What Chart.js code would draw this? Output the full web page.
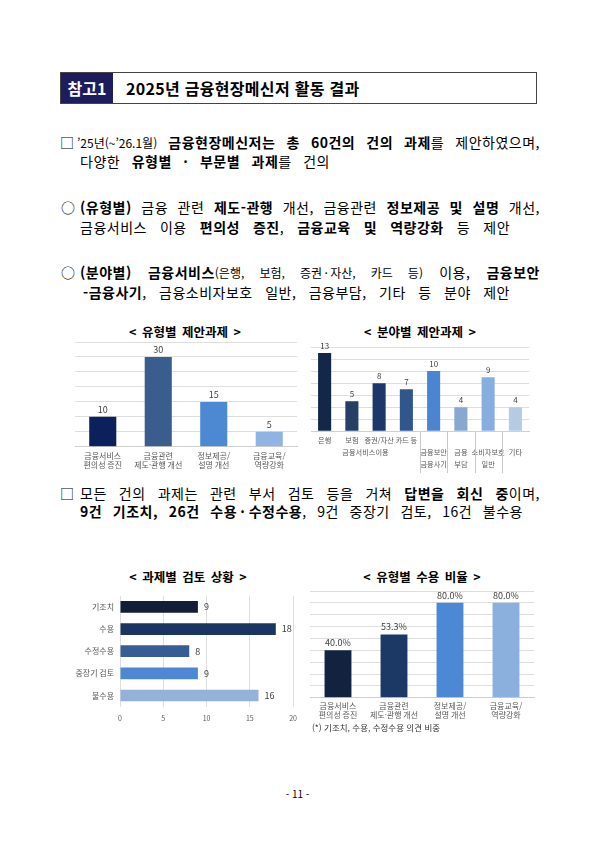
<!DOCTYPE html>
<html lang="ko">
<head>
<meta charset="UTF-8">
<title>2025년 금융현장메신저 활동 결과</title>
<script src="https://cdn.jsdelivr.net/npm/chart.js@4.4.1/dist/chart.umd.min.js"></script>
<style>
    body{
        margin: 0;
        width: 595px;
        height: 841px;
        position: relative;
        background: #fff;
        color: #000;
        font-family: 'Noto Sans CJK KR', sans-serif;
    }
    .line, .mark{
        position: absolute;
        font-size: 14px;
        line-height: 20px;
    }
    .line{
        letter-spacing: 0.5px;
        text-align: justify;
        text-align-last: justify;
    }
    .line b{ font-weight: 700; }
    .sm{ font-size: 12px; letter-spacing: 0; }
    .head{
        position: absolute;
        left: 60px; top: 72px;
        width: 475px; height: 30px;
        border: 1px solid #444;
    }
    .head .tag{
        position: absolute;
        left: 0; top: 0; width: 52px; height: 30px;
        background: #1e1d5c;
        color: #fff;
        font-weight: 700;
        font-size: 16px;
        line-height: 30px;
        text-align: center;
    }
    .head .txt{
        position: absolute;
        left: 65px; top: 0;
        font-weight: 700;
        font-size: 16px;
        line-height: 30px;
        letter-spacing: 0.3px;
    }
    .ctitle{
        position: absolute;
        width: 200px;
        font-size: 12.5px;
        font-weight: 700;
        line-height: 16px;
        text-align: center;
        word-spacing: 2px;
    }
    .chart{ position: absolute; }
    .note{
        position: absolute;
        font-size: 8.5px;
        color: #333;
    }
    .page{
        position: absolute;
        left: 0; width: 595px; top: 786px;
        text-align: center;
        font-size: 10px;
    }
</style>
</head>
<body>

    <div class="head">
        <div class="tag">참고1</div>
        <div class="txt">2025년 금융현장메신저 활동 결과</div>
    </div>

    <div class="mark" style="left:60px; top:132px">□</div>
    <div class="line" style="left:77px; top:132px; width:463px"><span class="sm">’25년(~’26.1월)</span> <b>금융현장메신저는 총 60건의 건의 과제</b>를 제안하였으며,</div>
    <div class="line" style="left:80px; top:151px; width:250px">다양한 <b>유형별 · 부문별 과제</b>를 건의</div>

    <div class="mark" style="left:61px; top:197px">○</div>
    <div class="line" style="left:80px; top:197px; width:460px"><b>(유형별)</b> 금융 관련 <b>제도-관행</b> 개선, 금융관련 <b>정보제공 및 설명</b> 개선,</div>
    <div class="line" style="left:80px; top:217px; width:430px">금융서비스 이용 <b>편의성 증진</b>, <b>금융교육 및 역량강화</b> 등 제안</div>

    <div class="mark" style="left:61px; top:262px">○</div>
    <div class="line" style="left:80px; top:262px; width:460px"><b>(분야별)</b> <b>금융서비스</b><span class="sm">(은행, 보험, 증권&#8201;·&#8201;자산, 카드 등)</span> 이용, <b>금융보안</b></div>
    <div class="line" style="left:83px; top:282px; width:427px"><b>-금융사기</b>, 금융소비자보호 일반, 금융부담, 기타 등 분야 제안</div>

    <div class="ctitle" style="left:85px; top:324px">&lt; 유형별 제안과제 &gt;</div>
    <div class="chart" style="left:60px; top:337px; width:245px; height:137px"><canvas id="typeChart"></canvas></div>

    <div class="ctitle" style="left:320px; top:324px">&lt; 분야별 제안과제 &gt;</div>
    <div class="chart" style="left:305px; top:337px; width:232px; height:136px"><canvas id="fieldChart"></canvas></div>

    <div class="mark" style="left:60px; top:483px">□</div>
    <div class="line" style="left:80px; top:483px; width:460px">모든 건의 과제는 관련 부서 검토 등을 거쳐 <b>답변을 회신 중</b>이며,</div>
    <div class="line" style="left:80px; top:501px; width:443px"><b>9건 기조치, 26건 수용&#8201;·&#8201;수정수용</b>, 9건 중장기 검토, 16건 불수용</div>

    <div class="ctitle" style="left:88px; top:569px">&lt; 과제별 검토 상황 &gt;</div>
    <div class="chart" style="left:60px; top:585px; width:245px; height:146px"><canvas id="reviewChart"></canvas></div>

    <div class="ctitle" style="left:322px; top:569px">&lt; 유형별 수용 비율 &gt;</div>
    <div class="chart" style="left:305px; top:585px; width:235px; height:138px"><canvas id="rateChart"></canvas></div>
    <div class="note" style="left:312px; top:721px">(*) 기조치, 수용, 수정수용 의견 비중</div>

    <div class="page">- 11 -</div>

    <script>
        // 유형별 제안과제
        var typeLabels = [['금융서비스', '편의성 증진'], ['금융관련', '제도·관행 개선'], ['정보제공/', '설명 개선'], ['금융교육/', '역량강화']];
        var typeCounts = [10, 30, 15, 5];
        var typeColors = ['#0c205c', '#395e8e', '#4c89d2', '#8fb3e2'];

        // 분야별 제안과제 (앞 4개는 금융서비스이용 묶음)
        var fieldLabels = [['은행'], ['보험'], ['증권/자산'], ['카드 등'], ['', '금융보안', '금융사기'], ['', '금융', '부담'], ['', '소비자보호', '일반'], ['', '기타']];
        var fieldGroup = '금융서비스이용';
        var fieldCounts = [13, 5, 8, 7, 10, 4, 9, 4];
        var fieldColors = ['#13274a', '#253f66', '#1b3868', '#30568b', '#4b85d0', '#8aa7cf', '#88aee0', '#b6cae4'];

        // 과제별 검토 상황
        var reviewLabels = ['기조치', '수용', '수정수용', '중장기 검토', '불수용'];
        var reviewCounts = [9, 18, 8, 9, 16];
        var reviewColors = ['#121d36', '#1b3563', '#385d93', '#4e88d4', '#93b1d9'];

        // 유형별 수용 비율 (%)
        var rateLabels = typeLabels;
        var rateValues = [40.0, 53.3, 80.0, 80.0];
        var rateColors = ['#13233f', '#1c3966', '#4d88d4', '#8cb0de'];

        Chart.defaults.font.family = "'Noto Sans CJK KR', sans-serif";
        Chart.defaults.color = '#595959';

        // values above / beside each bar
        var valueLabels = {
            id: 'valueLabels',
            afterDatasetsDraw: function(chart, args, opts) {
                var ctx = chart.ctx;
                var meta = chart.getDatasetMeta(0);
                var data = chart.data.datasets[0].data;
                ctx.save();
                ctx.font = opts.size + "px 'Noto Sans CJK KR', sans-serif";
                ctx.fillStyle = '#404040';
                meta.data.forEach(function(bar, i) {
                    var text = opts.decimals ? data[i].toFixed(opts.decimals) : String(data[i]);
                    text += opts.suffix || '';
                    if (chart.options.indexAxis === 'y') {
                        ctx.textAlign = 'left';
                        ctx.textBaseline = 'middle';
                        ctx.fillText(text, bar.x + 6, bar.y);
                    } else {
                        ctx.textAlign = 'center';
                        ctx.textBaseline = 'bottom';
                        ctx.fillText(text, bar.x, bar.y - 3);
                    }
                });
                ctx.restore();
            }
        };

        // outer level of the field axis: group caption + separators
        var fieldGroupPlugin = {
            id: 'fieldGroup',
            afterDraw: function(chart) {
                var x = chart.scales.x;
                var ctx = chart.ctx;
                var tickOpts = x.options.ticks;
                var lh = tickOpts.font.size * tickOpts.font.lineHeight;
                var step = x.getPixelForValue(1) - x.getPixelForValue(0);
                var bottom = chart.chartArea.bottom;
                ctx.save();
                ctx.strokeStyle = '#c8c8c8';
                ctx.lineWidth = 1;
                for (var i = 4; i < fieldLabels.length; i++) {
                    var sx = Math.round(x.getPixelForValue(i) - step / 2) + 0.5;
                    ctx.beginPath();
                    ctx.moveTo(sx, bottom);
                    ctx.lineTo(sx, x.bottom);
                    ctx.stroke();
                }
                ctx.font = tickOpts.font.size + "px 'Noto Sans CJK KR', sans-serif";
                ctx.fillStyle = '#595959';
                ctx.textAlign = 'center';
                ctx.textBaseline = 'middle';
                var cx = (x.getPixelForValue(0) + x.getPixelForValue(3)) / 2;
                ctx.fillText(fieldGroup, cx, x.top + tickOpts.padding + lh * 1.5);
                ctx.restore();
            }
        };

        function columnOptions(max, step, pad, fontSize) {
            return {
                responsive: true,
                maintainAspectRatio: false,
                animation: false,
                layout: { padding: pad },
                plugins: {
                    legend: { display: false },
                    tooltip: { enabled: false },
                    valueLabels: { size: fontSize }
                },
                scales: {
                    x: {
                        grid: { display: false, drawTicks: false },
                        border: { color: '#d0d0d0' },
                        ticks: { font: { size: 8 }, maxRotation: 0, autoSkip: false, padding: 4 }
                    },
                    y: {
                        min: 0,
                        max: max,
                        ticks: { stepSize: step, display: false },
                        grid: { color: '#dedede', drawTicks: false },
                        border: { display: false }
                    }
                }
            };
        }

        new Chart(document.getElementById('typeChart'), {
            type: 'bar',
            data: {
                labels: typeLabels,
                datasets: [{ data: typeCounts, backgroundColor: typeColors, barPercentage: 0.61, categoryPercentage: 0.8 }]
            },
            options: columnOptions(35, 5, { left: 15, right: 8, top: 5, bottom: 0 }, 9),
            plugins: [valueLabels]
        });

        var fieldOpts = columnOptions(14, 2, { left: 6, right: 8, top: 10, bottom: 0 }, 8);
        fieldOpts.scales.x.ticks.font = { size: 7.2, lineHeight: 1.65 };
        fieldOpts.scales.x.ticks.padding = 3;
        new Chart(document.getElementById('fieldChart'), {
            type: 'bar',
            data: {
                labels: fieldLabels,
                datasets: [{ data: fieldCounts, backgroundColor: fieldColors, barPercentage: 0.6, categoryPercentage: 0.8 }]
            },
            options: fieldOpts,
            plugins: [valueLabels, fieldGroupPlugin]
        });

        new Chart(document.getElementById('reviewChart'), {
            type: 'bar',
            data: {
                labels: reviewLabels,
                datasets: [{ data: reviewCounts, backgroundColor: reviewColors, barPercentage: 0.66, categoryPercentage: 0.8 }]
            },
            options: {
                indexAxis: 'y',
                responsive: true,
                maintainAspectRatio: false,
                animation: false,
                layout: { padding: { left: 0, right: 9, top: 8, bottom: 0 } },
                plugins: {
                    legend: { display: false },
                    tooltip: { enabled: false },
                    valueLabels: { size: 9 }
                },
                scales: {
                    x: {
                        min: 0,
                        max: 20,
                        ticks: { stepSize: 5, font: { size: 7 }, padding: 8 },
                        grid: { color: '#dedede', drawTicks: false },
                        border: { display: false }
                    },
                    y: {
                        grid: { display: false, drawTicks: false },
                        border: { display: false },
                        ticks: { font: { size: 8 }, padding: 6 },
                        afterFit: function(scale) { scale.width = 60; }
                    }
                }
            },
            plugins: [valueLabels]
        });

        var rateOpts = columnOptions(90, 10, { left: 5, right: 6, top: 6, bottom: 0 }, 9);
        rateOpts.plugins.valueLabels = { size: 9, decimals: 1, suffix: '%' };
        rateOpts.scales.x.ticks.padding = 3;
        new Chart(document.getElementById('rateChart'), {
            type: 'bar',
            data: {
                labels: rateLabels,
                datasets: [{ data: rateValues, backgroundColor: rateColors, barPercentage: 0.6, categoryPercentage: 0.8 }]
            },
            options: rateOpts,
            plugins: [valueLabels]
        });
    </script>
</body>
</html>
